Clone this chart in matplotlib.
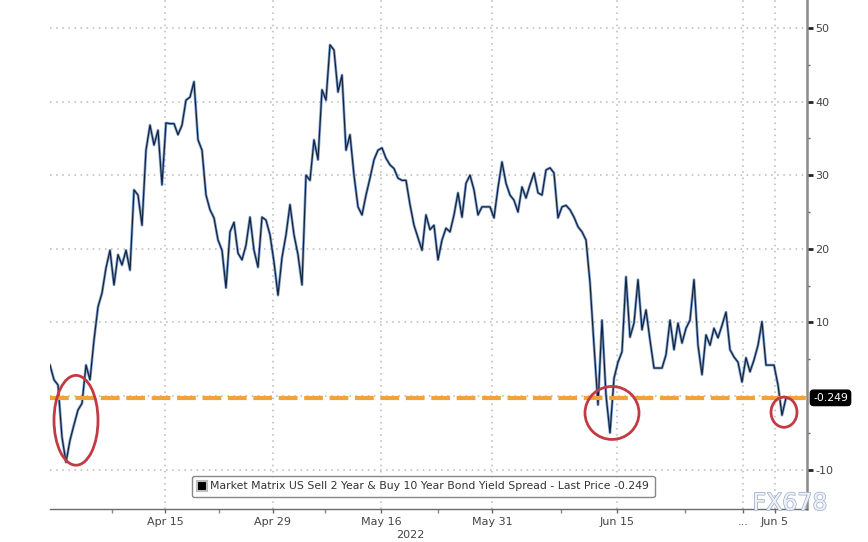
import matplotlib
matplotlib.use("Agg")
import matplotlib.pyplot as plt
from matplotlib.patches import Ellipse
from matplotlib.lines import Line2D
import matplotlib.transforms as mtransforms
import matplotlib.patheffects as pe

# ---- data (bp), one value per sample step ----
spread = [
    4.2, 2.2, 1.5, -5.6, -9.0, -6.0, -3.9, -1.9, -1.0, 4.2,
    2.2, 7.6, 12.1, 14.0, 17.4, 19.8, 15.1, 19.2, 17.8, 19.8,
    17.1, 28.0, 27.3, 23.2, 33.4, 36.8, 34.1, 36.1, 28.7, 37.1,
    37.0, 37.0, 35.5, 36.8, 40.2, 40.6, 42.7, 34.8, 33.4, 27.3,
    25.3, 24.2, 21.2, 19.8, 14.7, 22.3, 23.6, 19.4, 18.5, 20.5,
    24.3, 19.8, 17.5, 24.3, 23.9, 21.9, 18.2, 13.7, 18.8, 21.9,
    26.0, 21.9, 19.2, 15.1, 30.0, 29.3, 34.8, 32.1, 41.6, 40.2,
    47.7, 47.0, 41.3, 43.6, 33.4, 35.5, 30.0, 25.7, 24.6, 27.3,
    29.6, 32.1, 33.4, 33.7, 32.3, 31.4, 30.9, 29.6, 29.3, 29.3,
    26.0, 23.2, 21.5, 19.8, 24.6, 22.6, 23.2, 18.5, 21.2, 22.8,
    22.3, 24.6, 27.6, 24.3, 28.9, 30.0, 28.0, 24.6, 25.7, 25.7,
    25.7, 24.2, 28.3, 31.8, 28.9, 27.3, 26.6, 25.0, 28.4, 26.9,
    28.7, 30.3, 27.6, 27.3, 30.7, 31.0, 30.3, 24.2, 25.7, 25.9,
    25.3, 24.3, 23.0, 22.3, 21.2, 15.4, 6.9, -1.2, 10.3, 0.1,
    -5.0, 2.4, 4.6, 6.0, 16.2, 8.0, 9.9, 15.8, 9.0, 11.7,
    7.6, 3.8, 3.8, 3.8, 5.6, 10.3, 6.3, 9.9, 7.2, 9.2,
    10.3, 15.8, 6.9, 2.9, 8.3, 6.9, 9.2, 7.9, 9.6, 11.4,
    6.3, 5.3, 4.6, 1.9, 5.2, 3.3, 4.9, 6.9, 10.1, 4.2,
    4.2, 4.2, 1.5, -2.6, -0.249,
]
last_price = -0.249

x_tick_pos = [28.75, 55.75, 82.75, 110.5, 141.75, 173.25, 181.25]
x_tick_labels = ["Apr 15", "Apr 29", "May 16", "May 31", "Jun 15", "...", "Jun 5"]
x_minor_pos = [15.5, 42.25, 68.75, 97.0, 127.75, 158.75]
y_ticks = [-10, 10, 20, 30, 40, 50]
y_grid = [-10, 0, 10, 20, 30, 40, 50]
year_label = "2022"
legend_text = "Market Matrix US Sell 2 Year & Buy 10 Year Bond Yield Spread - Last Price -0.249"

# annotation ellipses: (center x, center y, width, height) in data units
circles = [(6.5, -3.3, 11.0, 12.2), (140.5, -2.3, 13.5, 7.2), (183.5, -2.2, 6.5, 4.1)]

fig = plt.figure(figsize=(8.68, 5.42), dpi=100)
ax = fig.add_axes([50/868, 1-509/542, 757/868, 509/542])

xs = list(range(len(spread)))
ax.set_xlim(0, 189.25)
ax.set_ylim(-15.35, 53.8)

# grid
for yv in y_grid:
    ax.axhline(yv, color="#b8b8b8", lw=1.1, ls=(0, (1, 3)), zorder=1)
for xv in x_tick_pos:
    ax.axvline(xv, color="#b8b8b8", lw=1.1, ls=(0, (1, 3)), zorder=1)

# series
ax.plot(xs, spread, color="#5a88c6", lw=2.0, alpha=0.75, zorder=3)
ax.plot(xs, spread, color="#16233a", lw=0.9, zorder=4)

# last price line
ax.axhline(last_price, color="#f0a33a", lw=3.0, ls=(0, (4.5, 1.6)), zorder=5)

# ellipses
for cx, cy, w, h in circles:
    ax.add_patch(Ellipse((cx, cy), w, h, fill=False, edgecolor="#c23a44", lw=2.0, zorder=6))

# spines
for s in ["top", "left"]:
    ax.spines[s].set_visible(False)
ax.spines["right"].set_color("#8a8a8a")
ax.spines["right"].set_linewidth(1.8)
ax.spines["bottom"].set_color("#6a6a6a")
ax.spines["bottom"].set_linewidth(1.0)

# y axis on the right
ax.yaxis.tick_right()
ax.set_yticks(y_ticks)
ax.set_yticklabels([str(v) for v in y_ticks])
ax.set_yticks([-5, 5, 15, 25, 35, 45], minor=True)
ax.tick_params(axis="y", which="major", direction="out", length=4, width=2, color="#222222",
               labelsize=8, labelcolor="#444444", pad=2)
ax.tick_params(axis="y", which="minor", direction="out", length=2, width=1, color="#666666")

# x axis
ax.set_xticks(x_tick_pos)
ax.set_xticklabels(x_tick_labels)
ax.set_xticks(x_minor_pos, minor=True)
ax.tick_params(axis="x", which="major", direction="out", length=3, width=1, color="#666666",
               labelsize=8, labelcolor="#444444", pad=3)
ax.tick_params(axis="x", which="minor", direction="out", length=3, width=1, color="#888888")
ax.text(90.0, -0.042, year_label, transform=mtransforms.blended_transform_factory(ax.transData, ax.transAxes),
        ha="center", va="top", fontsize=8, color="#444444")

# last price tag
trans = mtransforms.blended_transform_factory(ax.transAxes, ax.transData)
ax.text(1.008, last_price, "-0.249", transform=trans, ha="left", va="center", fontsize=7.8,
        color="white", zorder=10, clip_on=False,
        bbox=dict(boxstyle="round,pad=0.25,rounding_size=0.3", fc="black", ec="black"))

# legend
h = [Line2D([], [], ls="none", marker="s", markersize=7, markerfacecolor="black",
            markeredgecolor="#bdbdbd", markeredgewidth=1.5)]
leg = ax.legend(h, [legend_text], loc="center", bbox_to_anchor=(0.4875, 0.1024),
                bbox_transform=fig.transFigure, fontsize=7.8, frameon=True, fancybox=True,
                handlelength=0.8, handletextpad=0.4, borderpad=0.5, labelcolor="#333333")
leg.get_frame().set_edgecolor("#6a6a6a")
leg.get_frame().set_linewidth(1.0)
leg.set_zorder(8)

# watermark
fig.text(790/868, 1-503/542, "FX678", ha="center", va="center", fontsize=17,
         color="#eef2f8", zorder=20,
         path_effects=[pe.withStroke(linewidth=1.0, foreground="#9aabc8")])

fig.savefig("out.png", dpi=100)
